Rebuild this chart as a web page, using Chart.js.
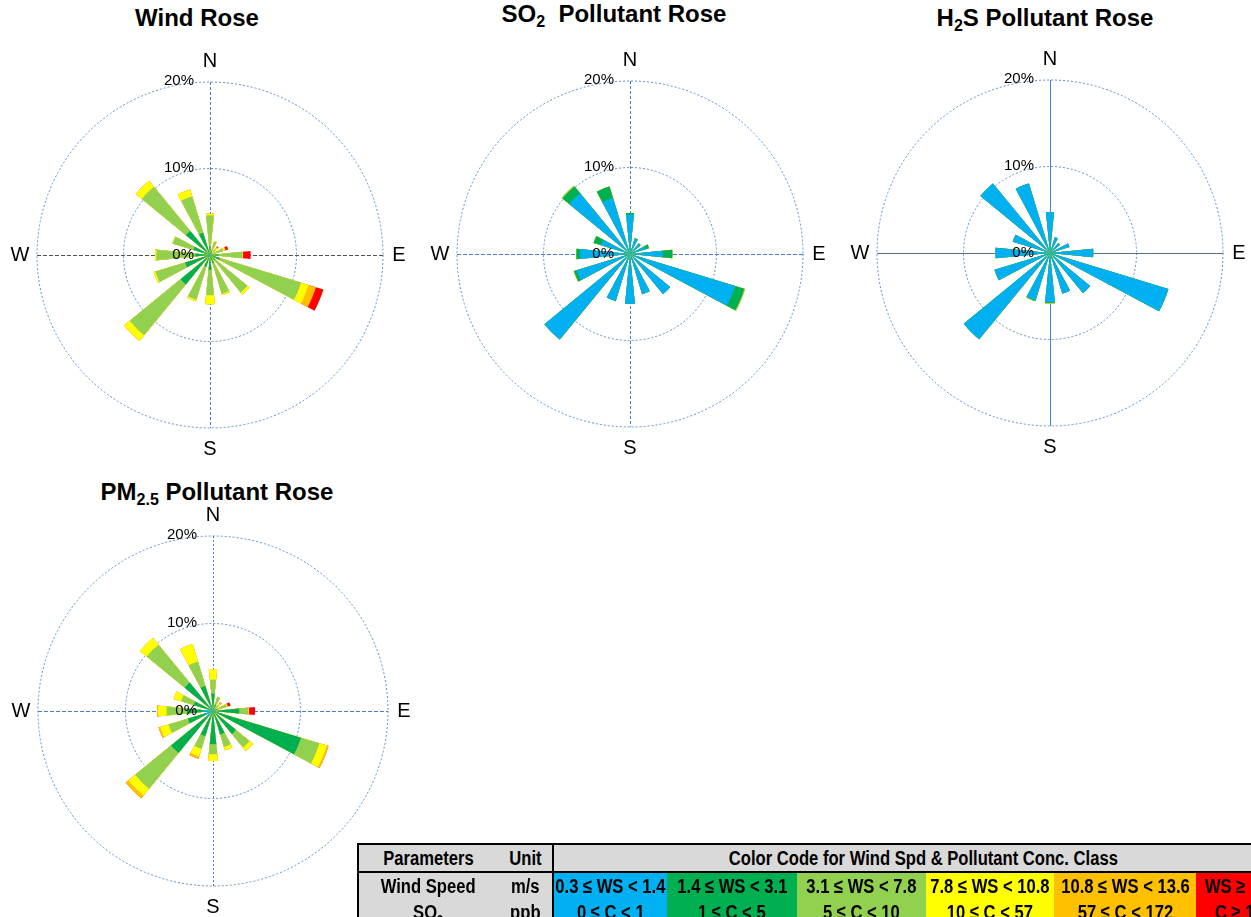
<!DOCTYPE html>
<html>
<head>
<meta charset="utf-8">
<script src="https://cdn.jsdelivr.net/npm/chart.js@4/dist/chart.umd.min.js"></script>
<style>
  html, body { margin: 0; padding: 0; background: #fff; }
  body { width: 1251px; height: 917px; overflow: hidden; position: relative; font-family: "Liberation Sans", Arial, sans-serif; }
  canvas { position: absolute; }
  .title { position: absolute; font-weight: bold; font-size: 24px; line-height: 28px; text-align: center; white-space: pre; color: #000; }
  .title sub { font-size: 16px; line-height: 0; vertical-align: -5px; }
  table.legend { position: absolute; left: 357px; top: 843px; width: 935px; border-collapse: collapse; border: 2px solid #000; table-layout: fixed;
    font-family: "Liberation Sans", Arial, sans-serif; font-weight: bold; font-size: 20px; }
  table.legend td { height: 26px; padding: 0; text-align: center; white-space: nowrap; }
  table.legend td span { display: inline-block; margin: 0 -60px; transform: scaleX(0.83); transform-origin: center; }
  table.legend .gray { background: #d9d9d9; }
  table.legend tr.head td { border-bottom: 2px solid #000; }
  table.legend td.sep { border-right: 2px solid #000; }
  table.legend sub { font-size: 13px; line-height: 0; }
</style>
</head>
<body>

<div class="title" style="left:47px;top:4px;width:300px;">Wind Rose</div>
<div class="title" style="left:464px;top:0px;width:300px;">SO<sub>2</sub>  Pollutant Rose</div>
<div class="title" style="left:895px;top:4px;width:300px;">H<sub>2</sub>S Pollutant Rose</div>
<div class="title" style="left:67px;top:478px;width:300px;">PM<sub>2.5</sub> Pollutant Rose</div>

<canvas id="wind" width="420" height="420" style="left:0px;top:45px;"></canvas>
<canvas id="so2" width="420" height="420" style="left:420px;top:44px;"></canvas>
<canvas id="h2s" width="420" height="420" style="left:840px;top:43px;"></canvas>
<canvas id="pm25" width="420" height="420" style="left:3px;top:501px;"></canvas>

<table class="legend">
  <colgroup>
    <col style="width:140px"><col style="width:55px">
    <col style="width:114px"><col style="width:130px"><col style="width:129px">
    <col style="width:128px"><col style="width:142px"><col style="width:97px">
  </colgroup>
  <tr class="head">
    <td class="gray"><span>Parameters</span></td><td class="gray sep"><span>Unit</span></td>
    <td class="gray" colspan="6"><span>Color Code for Wind Spd &amp; Pollutant Conc. Class</span></td>
  </tr>
  <tr>
    <td class="gray"><span>Wind Speed</span></td><td class="gray sep"><span>m/s</span></td>
    <td style="background:#00b0f0"><span>0.3 ≤ WS &lt; 1.4</span></td>
    <td style="background:#00b050"><span>1.4 ≤ WS &lt; 3.1</span></td>
    <td style="background:#92d050"><span>3.1 ≤ WS &lt; 7.8</span></td>
    <td style="background:#ffff00"><span>7.8 ≤ WS &lt; 10.8</span></td>
    <td style="background:#ffc000"><span>10.8 ≤ WS &lt; 13.6</span></td>
    <td style="background:#ff0000"><span>WS ≥ 13.6</span></td>
  </tr>
  <tr>
    <td class="gray"><span>SO<sub>2</sub></span></td><td class="gray sep"><span>ppb</span></td>
    <td style="background:#00b0f0"><span>0 ≤ C &lt; 1</span></td>
    <td style="background:#00b050"><span>1 ≤ C &lt; 5</span></td>
    <td style="background:#92d050"><span>5 ≤ C &lt; 10</span></td>
    <td style="background:#ffff00"><span>10 ≤ C &lt; 57</span></td>
    <td style="background:#ffc000"><span>57 ≤ C &lt; 172</span></td>
    <td style="background:#ff0000"><span>C ≥ 172</span></td>
  </tr>
</table>

<script>
// directions clockwise from north
const directions = ["N","NNE","NE","ENE","E","ESE","SE","SSE","S","SSW","SW","WSW","W","WNW","NW","NNW"];
const classColors = ["#00b0f0","#00b050","#92d050","#ffff00","#ffc000","#ff0000"];
const tickValues = [0, 10, 20];
const compassLabels = ["N","E","S","W"];

// frequency (%) per direction, one array per class (inner -> outer)
const windC1 = [0.2,0.2,0.1,0.1,0.2,0.2,0.2,0.2,0.2,0.2,0.3,0.2,0.2,0.2,0.3,0.2];
const windC2 = [0.8,0.3,0.2,0.2,0.8,1.0,0.6,0.8,1.5,1.2,4.1,2.8,1.5,1.8,3.3,2.5];
const windC3 = [3.6,1.1,0.6,1.3,2.7,9.8,4.8,3.7,2.95,4.0,7.6,3.6,4.5,2.5,6.6,4.4];
const windC4 = [0.2,0.1,0.2,0.2,0.1,0.9,0.3,0.15,1.05,0.2,0.85,0.2,0.15,0.05,0.9,0.8];
const windC5 = [0,0,0.1,0.1,0,0.9,0,0,0,0,0,0,0,0,0,0];
const windC6 = [0,0,0.1,0.3,0.9,0.9,0,0,0,0,0,0,0,0,0,0];

const so2C1 = [4.55,1.85,1.55,1.9,3.8,12.7,6.0,4.85,5.75,5.7,12.8,6.45,5.8,3.5,9.1,6.8];
const so2C2 = [0.2,0.05,0.05,0.4,1.1,1.1,0,0,0,0,0,0.3,0.4,0.9,1.0,1.35];
const so2C3 = [0,0,0,0,0,0.1,0,0,0,0,0,0.05,0,0,0.1,0];
const so2C4 = [0,0,0,0,0,0,0,0,0,0,0,0,0,0,0,0];
const so2C5 = [0,0,0,0,0,0,0,0,0,0,0,0,0,0,0,0];
const so2C6 = [0,0,0,0,0,0,0,0,0,0,0,0,0,0,0,0];

const h2sC1 = [4.75,1.9,1.5,2.35,5.0,14.3,6.0,4.9,5.7,5.7,12.9,6.7,6.3,4.5,10.4,8.4];
const h2sC2 = [0,0,0,0,0,0,0,0,0.08,0.08,0,0,0,0,0,0];
const h2sC3 = [0,0,0,0,0,0,0,0,0.05,0.05,0,0,0,0,0,0];
const h2sC4 = [0,0,0,0,0,0,0,0,0,0,0,0,0,0,0,0];
const h2sC5 = [0,0,0,0,0,0,0,0,0,0,0,0,0,0,0,0];
const h2sC6 = [0,0,0,0,0,0,0,0,0,0,0,0,0,0,0,0];

const pmC1 = [0.3,0.2,0.1,0.1,0.3,0.3,0.3,0.3,0.3,0.3,1.0,1.0,1.2,0.3,0.5,0.8];
const pmC2 = [1.7,0.6,0.3,0.4,2.7,10.2,3.1,2.5,3.5,2.7,5.2,2.0,1.8,2.0,3.7,2.2];
const pmC3 = [1.6,0.9,0.5,1.1,1.05,2.2,2.0,1.5,1.15,1.5,5.3,2.3,2.3,1.5,5.6,2.9];
const pmC4 = [1.2,0,0.2,0.1,0.05,0.9,0.5,0.4,0.75,0.9,1.0,1.0,1.0,0.9,1.0,2.1];
const pmC5 = [0,0,0.2,0.1,0,0.2,0,0,0,0.3,0.4,0.2,0.1,0,0,0];
const pmC6 = [0,0,0,0.3,0.7,0,0,0,0,0,0,0,0,0,0,0];

// 32 slots: each direction followed by an empty gap slot
const slotLabels = directions.flatMap(d=>[d,""]);

function makeDatasets(classes){
  const run = directions.map(()=>0);
  return classes.map((vals,k)=>{
    vals.forEach((v,i)=>run[i]+=v);
    const cum = run.slice();
    return {
      label: "class "+(k+1),
      data: cum.flatMap(v=>[v,0]),
      backgroundColor: classColors[k],
      borderWidth: 0
    };
  });
}

const roseDecor = {
  id: "roseDecor",
  beforeDatasetsDraw(chart, args, o){
    const s = chart.scales.r, ctx = chart.ctx;
    const cx = s.xCenter, cy = s.yCenter, r = s.drawingArea;
    ctx.save();
    ctx.lineWidth = 1;
    ctx.strokeStyle = o.vColor;
    ctx.setLineDash(o.vDash);
    ctx.beginPath(); ctx.moveTo(cx+0.5, cy-r); ctx.lineTo(cx+0.5, cy+r); ctx.stroke();
    ctx.strokeStyle = o.hColor;
    ctx.setLineDash(o.hDash);
    ctx.beginPath(); ctx.moveTo(cx-r, cy+0.5); ctx.lineTo(cx+r, cy+0.5); ctx.stroke();
    ctx.restore();
  },
  afterDraw(chart){
    const s = chart.scales.r, ctx = chart.ctx;
    const cx = s.xCenter, cy = s.yCenter, r = s.drawingArea;
    ctx.save();
    ctx.fillStyle = "#000";
    ctx.font = '15px "Liberation Sans", Arial, sans-serif';
    ctx.textAlign = "right";
    ctx.textBaseline = "middle";
    tickValues.forEach(v=>{
      const d = s.getDistanceFromCenterForValue(v);
      ctx.fillText(v+"%", cx-16, cy-d-(v ? 1 : 0));
    });
    ctx.font = '20px "Liberation Sans", Arial, sans-serif';
    ctx.textAlign = "center";
    const off = [[0,-(r+21)],[r+16,0],[0,r+21],[-(r+17),0]];
    compassLabels.forEach((t,i)=>ctx.fillText(t, cx+off[i][0], cy+off[i][1]));
    ctx.restore();
  }
};

function drawRose(id, classes, pad, cross){
  new Chart(document.getElementById(id), {
    type: "polarArea",
    data: { labels: slotLabels, datasets: makeDatasets(classes) },
    options: {
      responsive: false,
      animation: false,
      events: [],
      layout: { padding: pad },
      plugins: {
        legend: { display: false },
        tooltip: { enabled: false },
        roseDecor: cross
      },
      scales: {
        r: {
          min: 0,
          max: 20,
          startAngle: -360/32/2,
          ticks: { display: false, stepSize: 10 },
          grid: { color: "#5b8fd3", lineWidth: 1 },
          border: { dash: [2,2] },
          angleLines: { display: false },
          pointLabels: { display: false }
        }
      }
    },
    plugins: [roseDecor]
  });
}

drawRose("wind", [windC1,windC2,windC3,windC4,windC5,windC6], 37,
  { vColor:"#4a7fc8", vDash:[3,2], hColor:"#555", hDash:[4,2] });
drawRose("so2", [so2C1,so2C2,so2C3,so2C4,so2C5,so2C6], 37,
  { vColor:"#4a7fc8", vDash:[3,2], hColor:"#4a7fc8", hDash:[4,2] });
drawRose("h2s", [h2sC1,h2sC2,h2sC3,h2sC4,h2sC5,h2sC6], 37,
  { vColor:"#4a7fc8", vDash:[], hColor:"#5a6f8f", hDash:[] });
drawRose("pm25", [pmC1,pmC2,pmC3,pmC4,pmC5,pmC6], 35,
  { vColor:"#4a7fc8", vDash:[2,2], hColor:"#4a7fc8", hDash:[4,2] });
</script>
</body>
</html>
